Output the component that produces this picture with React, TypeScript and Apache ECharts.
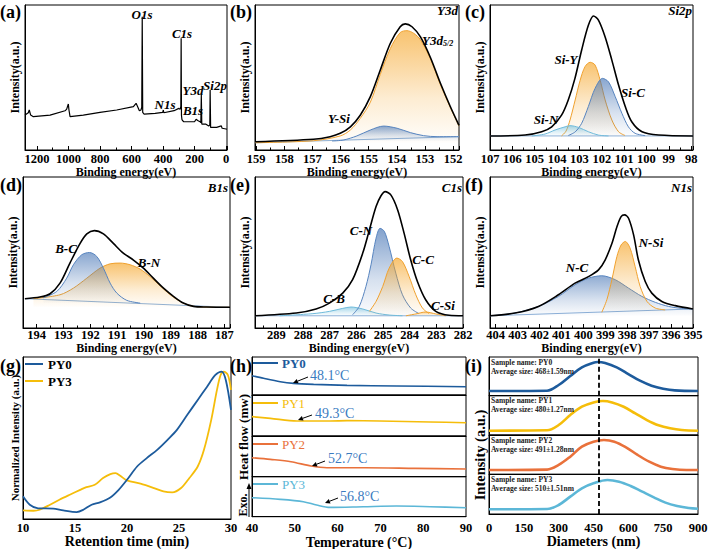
import React, { useEffect, useRef } from "react";
import * as echarts from "echarts";

type P = [number, number];

const FONT = '"Liberation Serif", "Times New Roman", Times, serif';

// ---------- (a) XPS survey ----------
const surveySpectrum: P[] = [
  [1276, 24.1], [1255, 25.7], [1249, 27.6], [1240, 24.1], [1223, 23], [1117, 24.1], [1022, 27.1],
  [1012, 28], [1001, 31.7], [997, 27.6], [990, 23], [906, 24.1], [800, 26], [694, 27.6], [588, 29.9],
  [571, 32.2], [561, 29.9], [550, 27.1], [540, 27.6], [535, 29.5], [532, 91.9], [529, 26], [520, 24.8],
  [450, 25.3], [402, 26], [398, 27.6], [395, 25.7], [330, 27.1], [300, 28.7], [292, 28], [287, 30],
  [285, 77], [283, 24], [280, 21], [270, 19.5], [200, 19.5], [190, 21.2], [180, 20.4], [165, 19.5],
  [160, 18.8], [157, 37.9], [154, 17.9], [130, 17.9], [110, 16.6], [103, 17.2], [101, 41.4], [98, 15.6],
  [60, 15.6], [30, 16.6], [25, 15], [0, 14.5], [-6, 14.3],
];

// ---------- (b) Y3d ----------
const y3dEnvelope: P[] = [
  [159.03, 5.7], [156.96, 7.4], [156.37, 9.2], [156.01, 11.5], [155.65, 16], [155.3, 24], [154.94, 36.8],
  [154.59, 55], [154.23, 73.6], [153.88, 85], [153.7, 87], [153.46, 85], [153.16, 78], [152.81, 64],
  [152.45, 46], [152.1, 30], [151.79, 17],
];
const y3d52: P[] = [
  [159.03, 5], [156.96, 6.4], [156.01, 9.7], [155.65, 13.8], [155.3, 21.8], [154.94, 33], [154.59, 52],
  [154.23, 70], [153.88, 81], [153.64, 82.3], [153.4, 80.5], [153.16, 76], [152.81, 63], [152.45, 45],
  [152.1, 29.4], [151.79, 16.5],
];
const ySi: P[] = [
  [156.3, 6.2], [155.89, 6.9], [155.42, 9.7], [154.94, 13.8], [154.47, 16.5], [153.99, 15], [153.52, 12],
  [153.05, 9.9], [152.57, 9.2], [151.79, 9.2],
];
const y3dBase: P[] = [[159.03, 5], [151.79, 9.2]];

// ---------- (c) Si2p ----------
const si2pEnvelope: P[] = [
  [107.0, 9.7], [105.43, 10.3], [104.69, 12.6], [104.24, 16], [103.8, 24], [103.5, 34.5], [103.2, 49.4],
  [102.9, 69], [102.6, 86], [102.37, 92.4], [102.15, 89.6], [101.85, 78], [101.55, 62], [101.25, 44.8],
  [100.95, 30], [100.66, 19.5], [100.2, 12.6], [99.46, 10.3], [97.92, 9.7],
];
const siY: P[] = [
  [103.8, 9.7], [103.6, 13], [103.42, 20.7], [103.19, 34.5], [102.97, 48], [102.75, 57.5], [102.52, 60.5],
  [102.3, 58.6], [102.07, 48], [101.85, 34.5], [101.55, 20.7], [101.25, 12.6], [100.96, 10],
];
const siC: P[] = [
  [103.5, 10], [103.19, 12.5], [102.9, 18.4], [102.6, 30], [102.3, 42.5], [101.97, 49.4], [101.7, 47],
  [101.4, 36.8], [101.1, 25.3], [100.81, 16], [100.51, 11.5], [100.06, 9.9],
];
const siN: P[] = [
  [105.13, 9.7], [104.54, 11], [104.09, 13.8], [103.64, 16], [103.42, 16.8], [103.04, 15.6], [102.6, 12.6],
  [102.15, 10.3], [101.7, 9.7],
];
const si2pBase: P[] = [[107.0, 9.7], [97.92, 9.7]];

// ---------- (d) B1s ----------
const b1sEnvelope: P[] = [
  [194.44, 19.4], [193.88, 20.5], [193.5, 22.7], [193.13, 29.7], [192.76, 43], [192.38, 56], [192.13, 62.3],
  [191.85, 64.5], [191.51, 62.3], [191.14, 56], [190.77, 49.6], [190.39, 45], [190.02, 39.6], [189.65, 33],
  [189.27, 26.4], [188.9, 21], [188.53, 16.5], [188.15, 14.3], [187.66, 13.9], [186.79, 13.7],
];
const bC: P[] = [
  [193.75, 20], [193.25, 24.2], [192.88, 33], [192.63, 41.9], [192.32, 48.5], [192.03, 50], [191.76, 47.4],
  [191.51, 39.6], [191.26, 29.7], [191.01, 23.1], [190.64, 18.3], [190.14, 16.5],
];
const bN: P[] = [
  [194.12, 19.4], [193.13, 22], [192.63, 26.4], [192.13, 33], [191.64, 39.6], [191.26, 42.5], [190.89, 43],
  [190.52, 41.9], [190.14, 39], [189.77, 34], [189.4, 28], [189.02, 22], [188.65, 17.6], [188.28, 14.8],
  [187.78, 13.9], [186.79, 13.7],
];
const b1sBase: P[] = [[194.44, 19.4], [186.79, 13.7]];

// ---------- (e) C1s ----------
const c1sEnvelope: P[] = [
  [289.8, 8.1], [288.25, 9.9], [287.51, 12.6], [287.01, 16.5], [286.51, 23.1], [286.14, 32], [285.76, 49.6],
  [285.51, 65], [285.26, 80.4], [285.08, 87.4], [284.92, 90.3], [284.7, 88], [284.45, 78.2], [284.21, 62.8],
  [283.96, 45], [283.71, 30.8], [283.4, 18.7], [283.02, 11], [282.52, 8.4], [282.0, 8.1],
];
const cN: P[] = [
  [286.14, 8.8], [285.89, 14.3], [285.64, 27.5], [285.45, 41.9], [285.26, 59.5], [285.11, 66], [284.95, 64],
  [284.77, 54], [284.52, 36.3], [284.27, 22], [283.96, 13.2], [283.65, 9.5],
];
const cC: P[] = [
  [285.51, 11], [285.26, 17.6], [285.01, 27.5], [284.77, 39.6], [284.48, 46.3], [284.27, 44], [284.02, 34.1],
  [283.77, 22], [283.52, 13.2], [283.27, 9.5],
];
const cB: P[] = [
  [288.88, 8.1], [287.63, 9.5], [287.01, 11], [286.51, 13], [286.2, 13.9], [285.76, 12.6], [285.26, 9.9],
  [284.77, 8.6], [284.27, 8.1],
];
const cSi: P[] = [[284.14, 8.1], [283.77, 9.3], [283.4, 10.6], [283.02, 9.3], [282.65, 8.1]];
const c1sBase: P[] = [[289.8, 8.1], [282.0, 8.1]];

// ---------- (f) N1s ----------
const n1sEnvelope: P[] = [
  [404.26, 8.1], [403.12, 9.9], [402.05, 14.3], [401.14, 22], [400.38, 29.7], [399.77, 34], [399.31, 38.5],
  [399.01, 45], [398.7, 56], [398.47, 67], [398.28, 73.8], [398.12, 74.9], [397.94, 72.7], [397.71, 61.7],
  [397.49, 45], [397.18, 30.8], [396.88, 23.1], [396.42, 17.6], [395.81, 14.8], [395.0, 12.6],
];
const nC: P[] = [
  [404.26, 8.1], [403.12, 9.9], [402.05, 14.3], [401.14, 20.9], [400.38, 28.6], [399.77, 33], [399.16, 34.6],
  [398.55, 32], [397.94, 26.4], [397.33, 20.9], [396.72, 17], [396.12, 14.3], [395.51, 13], [395.0, 12.6],
];
const nSi: P[] = [
  [399.16, 10.4], [398.93, 18.7], [398.7, 32], [398.47, 47.4], [398.28, 55], [398.09, 57.3], [397.87, 52.9],
  [397.64, 40.7], [397.41, 27.5], [397.1, 17.6], [396.72, 13.2], [396.27, 12],
];
const n1sBase: P[] = [[404.26, 8.1], [395.0, 12.6]];

// ---------- (g) GPC ----------
const gpcPY0: P[] = [
  [10, 14], [10.65, 8.8], [11.45, 6.6], [12.9, 6.4], [13.87, 5.3], [15.16, 4.3], [15.8, 5.7], [16.6, 8.8],
  [17.4, 10.3], [18.4, 13.3], [19.2, 18], [20, 24.2], [20.97, 32.4], [21.9, 37.6], [22.9, 42.7], [23.9, 48.9],
  [24.8, 55], [25.8, 64.3], [26.8, 73.5], [27.7, 81.7], [28.5, 88.9], [29.1, 91], [29.5, 85.8], [30, 67.4],
];
const gpcPY3: P[] = [
  [10, 5.3], [11, 5.1], [11.6, 5.7], [12.6, 8.8], [13.5, 11.9], [14.5, 15], [15.5, 18], [16.1, 19.7],
  [16.9, 21.1], [17.7, 25.3], [18.4, 27.7], [18.9, 28.3], [19.35, 26.7], [20, 23.8], [21.3, 21.8],
  [22.6, 19.1], [23.5, 17], [24.35, 16.4], [25.2, 19.1], [26, 25.3], [26.8, 32.4], [27.4, 42.7],
  [28.1, 61.2], [28.65, 79.7], [29.0, 88.9], [29.3, 91], [29.7, 88.9], [30, 79.7],
];

// ---------- (h) DSC ----------
const dscPY0: P[] = [[40, 50.9], [42.7, 43.9], [46.6, 35], [49.7, 30.7], [54.4, 28], [62.2, 25.4], [73.8, 23.7], [90, 21.9]];
const dscPY1: P[] = [[40, 47.2], [44.3, 43.1], [50.5, 36.6], [58.3, 36.6], [62.2, 37.4], [69.9, 36.6], [81.6, 34.1], [90, 32.5]];
const dscPY2: P[] = [[40, 46.7], [44.3, 42.6], [49.1, 36.9], [53.8, 26.2], [57.5, 22.1], [66.4, 22.1], [78.1, 20.5], [90, 18.9]];
const dscPY3: P[] = [[40, 47.5], [46.6, 43.3], [52, 37.5], [55.1, 29.2], [58.2, 23.3], [66, 25], [73.8, 26.7], [81.6, 25], [90, 22.5]];
const dscNames = ["PY0", "PY1", "PY2", "PY3"];
const dscTg = ["48.1°C", "49.3°C", "52.7°C", "56.8°C"];

// ---------- (i) DLS ----------
const dlsPY0: P[] = [[0, 12], [250, 12.9], [300, 27.6], [350, 50.9], [400, 73.3], [450, 85.3], [468, 87], [500, 84.5], [550, 73.3], [600, 56], [650, 38.8], [700, 25.9], [750, 18.1], [800, 13.8], [900, 12]];
const dlsPY1: P[] = [[0, 11], [250, 11.9], [300, 25.4], [350, 50.8], [400, 72], [450, 83], [490, 86.4], [530, 83], [580, 72], [630, 55], [680, 38], [730, 24.6], [780, 17], [830, 12.7], [900, 11]];
const dlsPY2: P[] = [[0, 11], [250, 11.9], [300, 23.7], [350, 44.9], [400, 70.3], [450, 83], [495, 87.3], [540, 83], [590, 68.6], [640, 49.2], [690, 32.2], [740, 19.5], [790, 13.6], [850, 11], [900, 11]];
const dlsPY3: P[] = [[0, 11.8], [250, 12.6], [300, 22.7], [350, 43.7], [400, 64.7], [450, 77.3], [510, 85.7], [560, 81.5], [610, 70.6], [660, 56.3], [710, 42], [760, 28.6], [810, 20.2], [860, 15.1], [900, 13.4]];
const dlsSizes = ["468±1.59nm", "480±1.27nm", "491±1.28nm", "510±1.51nm"];
const dlsMarker = 473;

const C_ORANGE = "#f0a12e";
const C_BLUE = "#5784bf";
const C_CYAN = "#6fbbdb";
const RGB_ORANGE = "245,165,40";
const RGB_BLUE = "68,115,180";
const RGB_CYAN = "100,185,218";
const SER = ["#1d5b9c", "#f5bd0a", "#e9713b", "#5cb7d7"];

const stepFmt = (step: number) => (v: number) => {
  const r = Math.round(v / step) * step;
  return Math.abs(v - r) < 1e-6 * Math.max(1, step) ? String(Math.round(r)) : "";
};

const grad = (rgb: string, a: number) =>
  new echarts.graphic.LinearGradient(0, 0, 0, 1, [
    { offset: 0, color: `rgba(${rgb},${a})` },
    { offset: 0.6, color: `rgba(${rgb},0.3)` },
    { offset: 1, color: `rgba(${rgb},0.02)` },
  ]);

const blackAxisLine = { show: true, onZero: false, lineStyle: { color: "#000", width: 1 } };

function App() {
  const ref = useRef<HTMLDivElement>(null);

  useEffect(() => {
    document.body.style.margin = "0";
    if (!ref.current) return;
    const chart = echarts.init(ref.current, undefined, { renderer: "svg" });

    const grids: any[] = [];
    const xAxes: any[] = [];
    const yAxes: any[] = [];
    const series: any[] = [];
    const graphics: any[] = [];

    const addGrid = (left: number, top: number, width: number, height: number) => {
      grids.push({ left, top, width, height, show: true, borderColor: "#000", borderWidth: 1, backgroundColor: "transparent", outerBoundsMode: "none", containLabel: false });
      return grids.length - 1;
    };

    const xpsPanel = (
      rect: [number, number, number, number], min: number, max: number, split: number, step: number,
      minorSplit: number, nameGap: number, labelMargin: number
    ) => {
      const gi = addGrid(...rect);
      xAxes.push({
        type: "value", gridIndex: gi, min, max, inverse: true, splitNumber: split,
        name: "Binding energy(eV)", nameLocation: "middle", nameGap,
        nameTextStyle: { fontFamily: FONT, fontWeight: "bold", fontSize: 12, color: "#000" },
        axisLine: blackAxisLine,
        axisTick: { show: true, inside: true, length: 4, lineStyle: { color: "#000", width: 1 } },
        minorTick: { show: true, splitNumber: minorSplit, length: 2.5, lineStyle: { color: "#000", width: 1 } },
        axisLabel: { margin: labelMargin, fontFamily: FONT, fontWeight: "bold", fontSize: 12.5, color: "#000", formatter: stepFmt(step) },
        splitLine: { show: false },
      });
      yAxes.push({
        type: "value", gridIndex: gi, min: 0, max: 100,
        name: "Intensity(a.u.)", nameLocation: "middle", nameGap: 4,
        nameTextStyle: { fontFamily: FONT, fontWeight: "bold", fontSize: 12, color: "#000" },
        axisLine: blackAxisLine, axisTick: { show: false }, axisLabel: { show: false }, splitLine: { show: false },
      });
      return gi;
    };

    const line = (name: string, gi: number, data: P[], color: string, width: number, smooth: any, z = 3, area?: [string, number, number]) => {
      const s: any = {
        type: "line", name, xAxisIndex: gi, yAxisIndex: gi, data, smooth, symbol: "none", showSymbol: false,
        lineStyle: { color, width }, itemStyle: { color }, z, silent: true,
      };
      if (area) s.areaStyle = { color: grad(area[0], area[1]), origin: area[2] };
      series.push(s);
      return s;
    };

    // (a)
    const ga = xpsPanel([25, 5, 202, 145], -6, 1276, 6, 200, 2, 14, 2.5);
    line("survey", ga, surveySpectrum, "#000", 1.2, false, 3);

    // (b)
    const gb = xpsPanel([255, 5, 204, 145], 151.79, 159.04, 7, 1, 2, 14, 2.5);
    line("b-base", gb, y3dBase, "#8eb1d8", 1, false, 2);
    line("Y3d5/2", gb, y3d52, C_ORANGE, 1, 0.3, 3, [RGB_ORANGE, 0.95, 5]);
    line("Y-Si", gb, ySi, C_BLUE, 1, 0.3, 4, [RGB_BLUE, 0.9, 6.2]);
    line("b-env", gb, y3dEnvelope, "#000", 1.6, 0.3, 5);

    // (c)
    const gc = xpsPanel([490, 5, 203, 145], 97.92, 107.0, 9, 1, 2, 14, 2.5);
    line("c-base", gc, si2pBase, "#8eb1d8", 1, false, 2);
    line("Si-Y", gc, siY, C_ORANGE, 1, 0.3, 3, [RGB_ORANGE, 0.95, 9.7]);
    line("Si-C", gc, siC, C_BLUE, 1, 0.3, 4, [RGB_BLUE, 0.9, 9.7]);
    line("Si-N", gc, siN, C_CYAN, 1, 0.3, 4, [RGB_CYAN, 0.85, 9.7]);
    line("c-env", gc, si2pEnvelope, "#000", 1.6, 0.3, 5);

    // (d)
    const gd = xpsPanel([23, 177, 207, 151], 186.79, 194.51, 7, 1, 2, 13, 0.5);
    line("d-base", gd, b1sBase, "#8eb1d8", 1, false, 2);
    line("B-N", gd, bN, C_ORANGE, 1, 0.3, 3, [RGB_ORANGE, 0.95, 14]);
    line("B-C", gd, bC, C_BLUE, 1, 0.3, 4, [RGB_BLUE, 0.9, 16.5]);
    line("d-env", gd, b1sEnvelope, "#000", 1.6, 0.3, 5);

    // (e)
    const ge = xpsPanel([255, 177, 208, 151], 282.0, 289.8, 7, 1, 2, 13, 0.5);
    line("e-base", ge, c1sBase, "#8eb1d8", 1, false, 2);
    line("C-B", ge, cB, C_CYAN, 1, 0.3, 3, [RGB_CYAN, 0.85, 8.1]);
    line("C-N", ge, cN, C_BLUE, 1, 0.3, 3, [RGB_BLUE, 0.95, 8.1]);
    line("C-C", ge, cC, C_ORANGE, 1, 0.3, 4, [RGB_ORANGE, 0.95, 8.1]);
    line("C-Si", ge, cSi, C_ORANGE, 1, 0.3, 4, [RGB_ORANGE, 0.8, 8.1]);
    line("e-env", ge, c1sEnvelope, "#000", 1.6, 0.3, 5);

    // (f)
    const gf = xpsPanel([490, 177, 203, 151], 395.0, 404.26, 9, 1, 2, 13, 0.5);
    line("f-base", gf, n1sBase, "#8eb1d8", 1, false, 2);
    line("N-C", gf, nC, C_BLUE, 1, 0.3, 3, [RGB_BLUE, 0.85, 8.1]);
    line("N-Si", gf, nSi, C_ORANGE, 1, 0.3, 4, [RGB_ORANGE, 0.95, 10.4]);
    line("f-env", gf, n1sEnvelope, "#000", 1.6, 0.3, 5);

    // (g)
    const gg = addGrid(23, 357, 208, 162);
    xAxes.push({
      type: "value", gridIndex: gg, min: 10, max: 30, interval: 5,
      name: "Retention time (min)", nameLocation: "middle", nameGap: 15,
      nameTextStyle: { fontFamily: FONT, fontWeight: "bold", fontSize: 14, color: "#000" },
      axisLine: blackAxisLine, axisTick: { show: false },
      axisLabel: { margin: 2, fontFamily: FONT, fontWeight: "bold", fontSize: 12.5, color: "#000" },
      splitLine: { show: false },
    });
    yAxes.push({
      type: "value", gridIndex: gg, min: 0, max: 100,
      name: "Normalized Intensity (a.u.)", nameLocation: "middle", nameGap: 3,
      nameTextStyle: { fontFamily: FONT, fontWeight: "bold", fontSize: 11, color: "#000" },
      axisLine: blackAxisLine, axisTick: { show: false }, axisLabel: { show: false }, splitLine: { show: false },
    });
    line("PY0", gg, gpcPY0, SER[0], 1.8, 0.3, 4);
    line("PY3", gg, gpcPY3, SER[1], 1.8, 0.3, 3);

    // (h) DSC stacked panels
    const hTops = [357, 395, 436, 476.7];
    const hHeights = [38, 41, 40.7, 40];
    const dscData = [dscPY0, dscPY1, dscPY2, dscPY3];
    const dscColors = [SER[0], SER[1], SER[2], SER[3]];
    hTops.forEach((top, k) => {
      const gi = addGrid(252, top, 214, hHeights[k]);
      const bottom = k === 3;
      xAxes.push({
        type: "value", gridIndex: gi, min: 40, max: 90, interval: 10,
        name: bottom ? "Temperature (°C)" : "", nameLocation: "middle", nameGap: 17.5,
        nameTextStyle: { fontFamily: FONT, fontWeight: "bold", fontSize: 14, color: "#000" },
        axisLine: blackAxisLine, axisTick: { show: false },
        axisLabel: { show: bottom, margin: 4.5, fontFamily: FONT, fontWeight: "bold", fontSize: 12.5, color: "#000" },
        splitLine: { show: false },
      });
      yAxes.push({
        type: "value", gridIndex: gi, min: 0, max: 100,
        axisLine: blackAxisLine, axisTick: { show: false }, axisLabel: { show: false }, splitLine: { show: false },
      });
      line("DSC " + dscNames[k], gi, dscData[k], dscColors[k], 1.6, 0.3, 3);
    });

    // (i) DLS stacked panels
    const iTops = [357, 395.7, 435, 474.3];
    const iHeights = [38.7, 39.3, 39.3, 39.7];
    const dlsData = [dlsPY0, dlsPY1, dlsPY2, dlsPY3];
    iTops.forEach((top, k) => {
      const gi = addGrid(489, top, 209, iHeights[k]);
      const bottom = k === 3;
      xAxes.push({
        type: "value", gridIndex: gi, min: 0, max: 900, interval: 150,
        name: bottom ? "Diameters (nm)" : "", nameLocation: "middle", nameGap: 20,
        nameTextStyle: { fontFamily: FONT, fontWeight: "bold", fontSize: 14, color: "#000" },
        axisLine: blackAxisLine, axisTick: { show: false },
        axisLabel: { show: bottom, margin: 7, fontFamily: FONT, fontWeight: "bold", fontSize: 12.5, color: "#000" },
        splitLine: { show: false },
      });
      yAxes.push({
        type: "value", gridIndex: gi, min: 0, max: 100,
        axisLine: blackAxisLine, axisTick: { show: false }, axisLabel: { show: false }, splitLine: { show: false },
      });
      const s = line("DLS " + dscNames[k], gi, dlsData[k], SER[k], 2.6, 0.35, 3);
      s.markLine = {
        silent: true, symbol: "none", label: { show: false },
        lineStyle: { color: "#000", width: 1.8, type: [5, 3] },
        data: [{ xAxis: dlsMarker }],
      };
    });

    // ---------- graphic annotations ----------
    const T = (x: number, y: number, text: string, o: any = {}) => ({
      type: "text", x, y, rotation: o.rot || 0, silent: true, z: 100,
      style: {
        text, fill: o.color || "#000", fontFamily: FONT, fontSize: o.size || 13,
        fontWeight: o.weight || "bold", fontStyle: o.italic ? "italic" : "normal",
        textAlign: o.align || "center", textVerticalAlign: "middle",
        align: o.align || "center", verticalAlign: "middle",
      },
    });
    const arrow = (x1: number, y1: number, x2: number, y2: number, head = 5, w = 2.4) => {
      const dx = x2 - x1, dy = y2 - y1;
      const L = Math.hypot(dx, dy);
      const ux = dx / L, uy = dy / L;
      const nx = -uy, ny = ux;
      const bx = x2 - ux * head, by = y2 - uy * head;
      return [
        { type: "line", silent: true, z: 100, shape: { x1, y1, x2: bx, y2: by }, style: { stroke: "#000", lineWidth: 1 } },
        { type: "polygon", silent: true, z: 100, shape: { points: [[x2, y2], [bx + nx * w, by + ny * w], [bx - nx * w, by - ny * w]] }, style: { fill: "#000" } },
      ];
    };

    const lab = { italic: true, size: 13 };
    // panel letters
    [["(a)", 0, 12], ["(b)", 230, 12], ["(c)", 465, 12], ["(d)", 0, 185], ["(e)", 230, 185], ["(f)", 465, 185],
     ["(g)", 0, 366], ["(h)", 230, 366], ["(i)", 465, 366]].forEach(([t, x, y]) =>
      graphics.push(T(x as number, y as number, t as string, { size: 18, align: "left" })));

    // (a) peak labels
    graphics.push(T(142, 14, "O1s", lab), T(182, 33, "C1s", lab), T(165, 104, "N1s", lab),
      T(193, 90, "Y3d", lab), T(215, 85, "Si2p", lab), T(193, 110, "B1s", lab));
    // (b)
    graphics.push(T(458, 10, "Y3d", { ...lab, align: "right" }), T(339, 118, "Y-Si", lab),
      T(422, 40, "Y3d", { ...lab, align: "left" }), T(443, 43, "5/2", { italic: true, size: 8, align: "left" }));
    // (c)
    graphics.push(T(692, 10, "Si2p", { ...lab, align: "right" }), T(566, 59, "Si-Y", lab), T(633, 92, "Si-C", lab), T(546, 119, "Si-N", lab));
    // (d)
    graphics.push(T(228, 187, "B1s", { ...lab, align: "right" }), T(66, 248, "B-C", lab), T(149, 262, "B-N", lab));
    // (e)
    graphics.push(T(462, 187, "C1s", { ...lab, align: "right" }), T(361, 230, "C-N", lab), T(423, 259, "C-C", lab),
      T(334, 298, "C-B", lab), T(443, 305, "C-Si", lab));
    // (f)
    graphics.push(T(692, 187, "N1s", { ...lab, align: "right" }), T(577, 267, "N-C", lab), T(651, 242, "N-Si", lab));

    // (h) legends, Tg labels and arrows
    const hLegY = [363, 403, 444, 484];
    const tgPos: [number, number][] = [[310, 375], [315, 413], [328, 458], [340, 496]];
    const arrows: [number, number, number, number][] = [[308, 377, 293, 383], [312, 415, 298, 420], [325, 461, 312, 466], [338, 498, 325, 503]];
    hLegY.forEach((y, k) => {
      graphics.push({ type: "line", silent: true, z: 100, shape: { x1: 253, y1: y, x2: 278, y2: y }, style: { stroke: dscColors[k], lineWidth: 2 } });
      graphics.push(T(282, y, dscNames[k], { color: dscColors[k], size: 13, align: "left", weight: k === 0 ? "bold" : "normal" }));
      graphics.push(T(tgPos[k][0], tgPos[k][1], dscTg[k], { color: "#3a7bbf", size: 14, align: "left", weight: "normal" }));
      graphics.push(...arrow(...arrows[k]));
    });
    graphics.push(T(243, 437, "Heat flow (mw)", { size: 13, rot: Math.PI / 2 }));
    graphics.push(T(243, 505, "Exo.", { size: 12, rot: Math.PI / 2 }));
    graphics.push(...arrow(249, 517, 249, 483, 6, 2.5));

    // (i) sample texts
    iTops.forEach((top, k) => {
      graphics.push(T(491, top + 5, "Sample name: " + dscNames[k], { size: 7.5, align: "left", color: "#222" }));
      graphics.push(T(491, top + 14, "Average size: " + dlsSizes[k], { size: 7.5, align: "left", color: "#222" }));
    });
    graphics.push(T(480, 455, "Intensity (a.u.)", { size: 14.5, rot: Math.PI / 2 }));

    chart.setOption({
      animation: false,
      backgroundColor: "#fff",
      textStyle: { fontFamily: FONT },
      grid: grids,
      xAxis: xAxes,
      yAxis: yAxes,
      legend: {
        data: ["PY0", "PY3"], orient: "vertical", left: 25, top: 357.5, padding: 0,
        icon: "rect", itemWidth: 18, itemHeight: 2, itemGap: 4, selectedMode: false,
        textStyle: { fontFamily: FONT, fontWeight: "bold", fontSize: 13, color: "#000" },
      },
      tooltip: { show: false },
      series,
      graphic: graphics,
    });

    return () => chart.dispose();
  }, []);

  return <div ref={ref} style={{ width: 708, height: 549 }} />;
}

export default App;
